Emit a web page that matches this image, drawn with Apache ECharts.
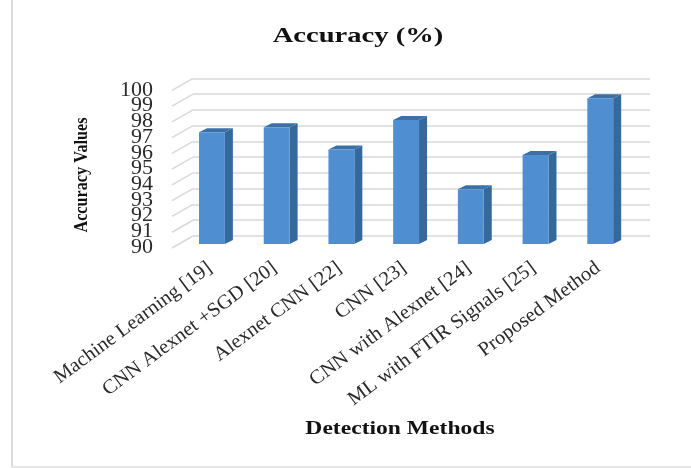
<!DOCTYPE html>
<html><head><meta charset="utf-8">
<style>html,body{margin:0;padding:0;background:#fff}#c{width:691px;height:468px;filter:blur(0.45px)}</style>
<script src="https://cdn.jsdelivr.net/npm/echarts@6/dist/echarts.min.js"></script>
</head><body><div id="c"></div>
<script>
const categories = ['Machine Learning [19]','CNN Alexnet +SGD [20]','Alexnet CNN [22]','CNN [23]','CNN with Alexnet [24]','ML with FTIR Signals [25]','Proposed Method'];
const accuracy = [97.08,97.4,96.0,97.86,93.47,95.64,99.24];
const yTicks = [90,91,92,93,94,95,96,97,98,99,100];
const serif = '"Liberation Serif","Times New Roman",serif';
const chart = echarts.init(document.getElementById('c'));
const DX = 8, DY = 4, WALLX = 21, WALLY = 12;
const ANGLE = 36.5*Math.PI/180;
chart.setOption({
  animation:false,
  backgroundColor:'#fff',
  graphic:[
    {type:'rect',shape:{x:11,y:0,width:2,height:467},style:{fill:'#dcdcdc'}},
    {type:'rect',shape:{x:11,y:466,width:680,height:2},style:{fill:'#e6e6e6'}},
    {type:'text',x:358,y:36,scaleX:1.3,style:{text:'Accuracy (%)',fontFamily:serif,fontWeight:'bold',fontSize:22,fill:'#111',align:'center',verticalAlign:'middle'}},
    {type:'text',x:400,y:429,scaleX:1.31,style:{text:'Detection Methods',fontFamily:serif,fontWeight:'bold',fontSize:18,fill:'#111',align:'center',verticalAlign:'middle'}},
    {type:'text',rotation:Math.PI/2,x:82,y:175,scaleX:0.9,style:{text:'Accuracy Values',fontFamily:serif,fontWeight:'bold',fontSize:18,fill:'#111',align:'center',verticalAlign:'middle'}}
  ],
  grid:[
    {left:179.6,top:86.3,width:453,height:157.7},
    {left:193,top:78.3,width:457,height:157.7},
    {left:172,top:90,width:100,height:157}
  ],
  xAxis:[
    {gridIndex:0,type:'category',data:categories,axisLine:{show:false},axisTick:{show:false},axisLabel:{show:false}},
    {gridIndex:1,type:'value',min:0,max:1,show:false},
    {gridIndex:2,type:'value',min:0,max:1,show:false}
  ],
  yAxis:[
    {gridIndex:0,type:'value',min:90,max:100,interval:1,show:false},
    {gridIndex:1,type:'value',min:90,max:100,interval:1,axisLine:{show:false},axisTick:{show:false},axisLabel:{show:false},
     splitLine:{show:true,showMinLine:true,showMaxLine:true,lineStyle:{color:'#d9d9d9',width:1.5}}},
    {gridIndex:2,type:'value',min:90,max:100,interval:1,show:false}
  ],
  series:[
    {type:'custom',xAxisIndex:1,yAxisIndex:1,silent:true,z:1,clip:false,data:yTicks.map(v=>[0,v]),
     renderItem(p,api){
       const a=api.coord([0,api.value(1)]);
       return {type:'line',shape:{x1:a[0],y1:a[1],x2:a[0]-WALLX,y2:a[1]+WALLY},style:{stroke:'#d9d9d9',lineWidth:1.5}};
     }},
    {type:'custom',xAxisIndex:2,yAxisIndex:2,silent:true,z:2,clip:false,data:yTicks.map(v=>[0,v]),
     renderItem(p,api){
       const v=api.value(1);
       const a=api.coord([0,v]);
       return {type:'text',x:a[0]-19,y:a[1],
         style:{text:String(v),fontFamily:serif,fontSize:22,fill:'#2a2a2a',align:'right',verticalAlign:'middle'}};
     }},
    {type:'custom',xAxisIndex:0,yAxisIndex:0,z:3,clip:false,data:accuracy.map((v,i)=>[i,v]),
     renderItem(p,api){
       const t=api.coord([api.value(0),api.value(1)]);
       const b=api.coord([api.value(0),90]);
       const w=api.size([1,0])[0]*0.4;
       const x0=t[0]-w/2,x1=t[0]+w/2,y0=t[1],y1=b[1];
       return {type:'group',children:[
         {type:'polygon',shape:{points:[[x1,y0],[x1+DX,y0-DY],[x1+DX,y1-DY],[x1,y1]]},style:{fill:'#35699c'}},
         {type:'polygon',shape:{points:[[x0,y0],[x0+DX,y0-DY],[x1+DX,y0-DY],[x1,y0]]},style:{fill:'#3b70a6'}},
         {type:'rect',shape:{x:x0,y:y0,width:w,height:y1-y0},style:{fill:'#4f8fd1'}}
       ]};
     }},
    {type:'custom',xAxisIndex:0,yAxisIndex:0,z:4,clip:false,silent:true,data:categories.map((c,i)=>[i,90]),
     renderItem(p,api){
       const i=api.value(0);
       const a=api.coord([i,90]);
       return {type:'text',x:a[0]-2,y:a[1]+22,rotation:ANGLE,scaleX:1.03,
         style:{text:categories[i],fontFamily:serif,fontSize:20,fill:'#2a2a2a',align:'right',verticalAlign:'middle'}};
     }}
  ]
});
</script></body></html>
